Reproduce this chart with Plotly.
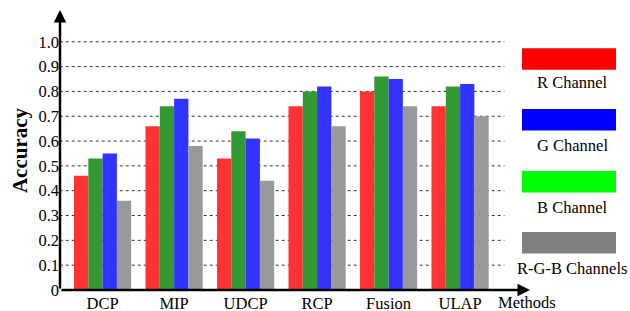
import plotly.graph_objects as go

methods = ["DCP", "MIP", "UDCP", "RCP", "Fusion", "ULAP"]
r_channel = [0.46, 0.66, 0.53, 0.74, 0.80, 0.74]
g_channel = [0.53, 0.74, 0.64, 0.80, 0.86, 0.82]
b_channel = [0.55, 0.77, 0.61, 0.82, 0.85, 0.83]
rgb_channels = [0.36, 0.58, 0.44, 0.66, 0.74, 0.70]
tick_vals = [0, 0.1, 0.2, 0.3, 0.4, 0.5, 0.6, 0.7, 0.8, 0.9, 1.0]
tick_text = ["0", "0.1", "0.2", "0.3", "0.4", "0.5", "0.6", "0.7", "0.8", "0.9", "1.0"]
legend_labels = ["R Channel", "G Channel", "B Channel", "R-G-B Channels"]
legend_colors = ["#ff0000", "#0000ff", "#00ff00", "#808080"]

FONT = "Liberation Serif, Times New Roman, serif"
FS = 16.5
x_idx = list(range(len(methods)))

fig = go.Figure()
for vals, col in [(r_channel, "#ff3333"), (g_channel, "#339933"),
                  (b_channel, "#3333ff"), (rgb_channels, "#999999")]:
    fig.add_trace(go.Bar(x=x_idx, y=vals, marker=dict(color=col, line=dict(width=0)),
                         showlegend=False))

shapes = []
# dotted gridlines
for v in tick_vals[1:]:
    shapes.append(dict(type="line", xref="x", yref="y", x0=-0.6, x1=5.62, y0=v, y1=v,
                       line=dict(color="#333333", width=1, dash="dot"), layer="below"))

# custom legend (pixel layout converted to paper coords; plot area y 10..290)
annotations = []
rect_tops = [48.3, 109, 171, 232]
text_offsets = [34.5, 36.5, 36.3, 36.3]
for lab, col, top, off in zip(legend_labels, legend_colors, rect_tops, text_offsets):
    shapes.append(dict(type="rect", xref="paper", yref="paper",
                       x0=(522 - 60) / 470, x1=(616 - 60) / 470,
                       y0=(290 - top - 21.5) / 280, y1=(290 - top) / 280,
                       fillcolor=col, line=dict(width=0)))
    annotations.append(dict(xref="paper", yref="paper", x=(572 - 60) / 470,
                            y=(290 - top - off) / 280, text=lab, showarrow=False,
                            font=dict(family=FONT, size=FS, color="black"),
                            xanchor="center", yanchor="middle"))

# axis arrows
annotations.append(dict(xref="paper", yref="paper", x=0, y=1.0, ax=0, ay=280,
                        showarrow=True, arrowhead=2,
                        arrowsize=1, arrowwidth=2.5, arrowcolor="black", text=""))
annotations.append(dict(xref="paper", yref="paper", x=1.0, y=0, ax=-470, ay=0,
                        showarrow=True, arrowhead=2, arrowsize=1, arrowwidth=2.5,
                        arrowcolor="black", text=""))
annotations.append(dict(xref="paper", yref="paper", x=(527 - 60) / 470, y=0, yshift=-12,
                        text="Methods", showarrow=False, xanchor="center", yanchor="middle",
                        font=dict(family=FONT, size=FS, color="black")))
annotations.append(dict(xref="paper", yref="paper", x=-0.085, y=0.5,
                        text="<b>Accuracy</b>", textangle=-90, showarrow=False,
                        xanchor="center", yanchor="middle",
                        font=dict(family=FONT, size=21, color="black")))

fig.update_layout(
    width=630, height=311,
    margin=dict(l=60, r=100, t=10, b=21, autoexpand=False),
    plot_bgcolor="white", paper_bgcolor="white",
    barmode="group", bargap=0.2, bargroupgap=0,
    font=dict(family=FONT, size=FS, color="black"),
    shapes=shapes, annotations=annotations,
    xaxis=dict(range=[-0.596, 5.978], tickvals=x_idx, ticktext=methods,
               showgrid=False, zeroline=False, showline=False, ticks="",
               ticklabelstandoff=1,
               automargin=False, tickfont=dict(family=FONT, size=FS)),
    yaxis=dict(range=[0, 1.128], tickvals=tick_vals, ticktext=tick_text,
               showgrid=False, zeroline=False, showline=False, ticks="",
               automargin=False, tickfont=dict(family=FONT, size=FS)),
)

fig.write_html("out.html", config={"displayModeBar": False},
               post_script="document.body.style.margin='0';document.body.style.overflow='hidden';")
